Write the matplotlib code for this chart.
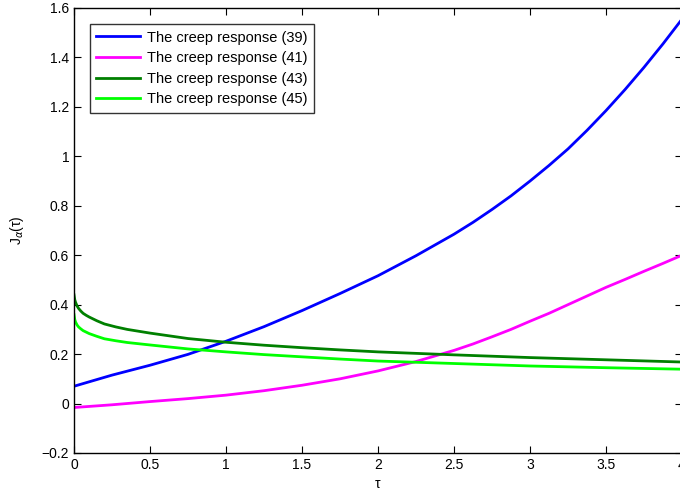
import numpy as np
import matplotlib
matplotlib.use('Agg')
import matplotlib.pyplot as plt

plt.rcParams['font.family'] = ['Liberation Sans', 'DejaVu Sans']

# values
tau_a = [0, 0.25, 0.5, 0.75, 1, 1.25, 1.5, 1.75, 2, 2.25, 2.5, 2.625, 2.75,
         2.875, 3, 3.125, 3.25, 3.375, 3.5, 3.625, 3.75, 3.875, 4]
J39 = [0.07, 0.115, 0.155, 0.199, 0.252, 0.311, 0.376, 0.445, 0.517, 0.598,
       0.685, 0.733, 0.785, 0.840, 0.900, 0.963, 1.03, 1.105, 1.185, 1.27,
       1.36, 1.455, 1.555]
J41 = [-0.016, -0.005, 0.008, 0.02, 0.034, 0.052, 0.074, 0.10, 0.132, 0.17,
       0.215, 0.241, 0.27, 0.30, 0.333, 0.365, 0.40, 0.435, 0.47, 0.502,
       0.535, 0.567, 0.60]

tau_b = [0, 0.005, 0.01, 0.02, 0.03, 0.045, 0.06, 0.08, 0.1, 0.15, 0.2, 0.275,
         0.35, 0.5, 0.75, 1, 1.25, 1.5, 1.75, 2, 2.5, 3, 3.5, 4]
J43 = [0.44, 0.42, 0.41, 0.395, 0.385, 0.374, 0.365, 0.357, 0.35, 0.335,
       0.322, 0.31, 0.300, 0.285, 0.263, 0.248, 0.236, 0.226, 0.217, 0.209,
       0.197, 0.186, 0.177, 0.168]
J45 = [0.36, 0.34, 0.33, 0.318, 0.31, 0.302, 0.295, 0.289, 0.283, 0.272,
       0.262, 0.254, 0.247, 0.237, 0.221, 0.209, 0.198, 0.189, 0.180, 0.172,
       0.162, 0.152, 0.145, 0.139]

labels = ['The creep response (39)', 'The creep response (41)',
          'The creep response (43)', 'The creep response (45)']

fig = plt.figure(figsize = (6.8, 4.91), dpi = 100)
ax = fig.add_axes([74/680, 38/491, 608/680, 445/491])

ax.plot(tau_a, J39, color = (0, 0, 1), lw = 2, label = labels[0])
ax.plot(tau_a, J41, color = (1, 0, 1), lw = 2, label = labels[1])
ax.plot(tau_b, J43, color = (0, 0.5, 0), lw = 2, label = labels[2])
ax.plot(tau_b, J45, color = (0, 1, 0), lw = 2, label = labels[3])

ax.set_xlim(0, 4)
ax.set_ylim(-0.2, 1.6)
ax.set_xticks(np.arange(0, 4.01, 0.5))
ax.set_xticklabels(['0', '0.5', '1', '1.5', '2', '2.5', '3', '3.5', '4'])
ax.set_yticks(np.arange(-0.2, 1.61, 0.2))
ax.set_yticklabels(['\u22120.2', '0', '0.2', '0.4', '0.6', '0.8', '1', '1.2', '1.4', '1.6'])
ax.tick_params(direction = 'in', top = True, right = True, length = 5,
               labelsize = 10, width = 0.8)
for sp in ax.spines.values():
    sp.set_linewidth(1)

ax.set_xlabel('\u03c4', fontsize = 10, labelpad = 4)
ax.set_ylabel('J$_\\alpha$(\u03c4)', fontsize = 10, labelpad = 11)

leg = ax.legend(loc = 'upper left', bbox_to_anchor = (0.026, 0.964), fontsize = 10.5,
                frameon = True, fancybox = False, edgecolor = 'black',
                borderaxespad = 0, handlelength = 3.0, handletextpad = 0.5,
                borderpad = 0.45, labelspacing = 0.45)
leg.get_frame().set_linewidth(1)

plt.savefig('out.png', dpi = 100)
